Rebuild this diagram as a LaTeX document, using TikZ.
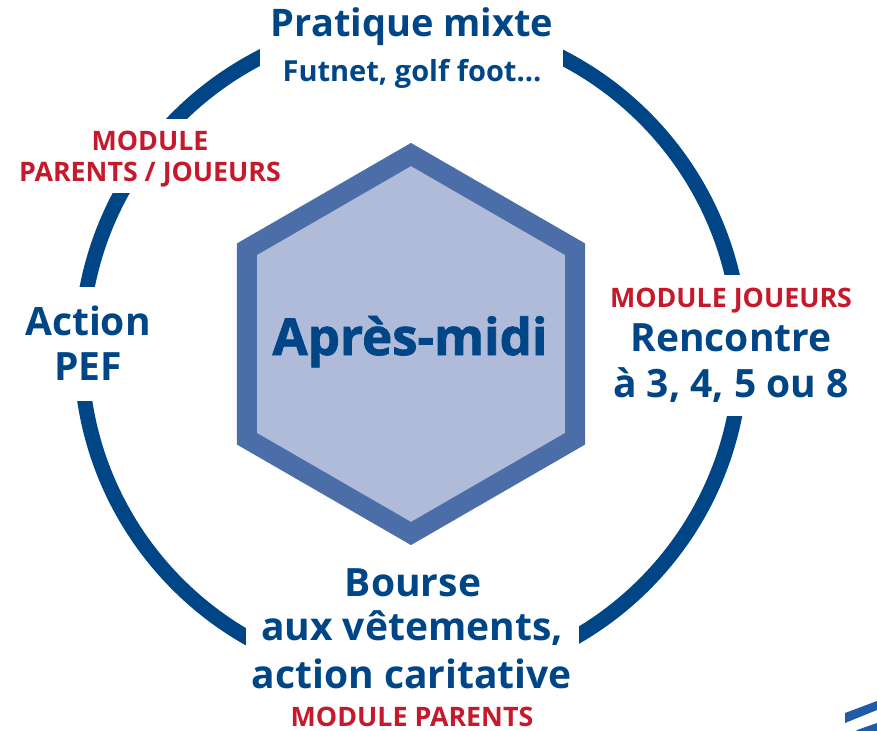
\documentclass[tikz,border=0pt]{standalone}
\usepackage{fontspec}
\setmainfont{Open Sans}
\newfontfamily\heavyfont{Open Sans}[BoldFeatures={FakeBold=1.6}]
\definecolor{dblue}{HTML}{004687}
\definecolor{hexout}{HTML}{4B6EA8}
\definecolor{hexin}{HTML}{AFBBD9}
\definecolor{mred}{HTML}{C41A2C}
\definecolor{logoblue}{HTML}{1E5BA8}
\tikzset{
  biglabel/.style={font=\bfseries\fontsize{39}{39}\selectfont, text=dblue, anchor=base, inner sep=0pt},
  sublabel/.style={font=\bfseries\fontsize{29}{29}\selectfont, text=dblue, anchor=base, inner sep=0pt},
  modlabel/.style={font=\bfseries\fontsize{26.8}{26.8}\selectfont, text=mred, anchor=base, inner sep=0pt},
  gap/.style={fill=white, draw=none},
}
\begin{document}
\begin{tikzpicture}[x=1pt,y=-1pt]
\useasboundingbox (0,0) rectangle (877,730);
% ring
\draw[dblue, line width=15pt] (411,351) circle[radius=330];
% gaps in the ring
\fill[gap] (260,-5) rectangle (563,110);
\fill[gap] (-5,119) rectangle (250,193);
\fill[gap] (-5,287) rectangle (200,401);
\fill[gap] (600,275) rectangle (882,416);
\fill[gap] (246,560) rectangle (579,735);
% hexagon
\draw[hexout, fill=hexin, line width=20pt, line join=miter]
  (411,344) ++(90:-189.5) -- ++(-30:-189.5) -- ++(-90:-189.5) -- ++(-150:-189.5) -- ++(150:-189.5) -- ++(90:-189.5) -- cycle;
\node[font=\heavyfont\bfseries\fontsize{51}{51}\selectfont, text=dblue, anchor=base, inner sep=0pt] (am) at (410,355) {Après-midi};
% labels
\node[biglabel, font=\bfseries\fontsize{38}{38}\selectfont] (pm) at (412,37) {Pratique mixte};
\node[sublabel] (fg) at (412,82) {Futnet, golf foot…};
\node[modlabel] (m1) at (150,150) {MODULE};
\node[modlabel] (m2) at (150,182) {PARENTS / JOUEURS};
\node[biglabel] (a1) at (88,335) {Action};
\node[biglabel] (a2) at (88,380) {PEF};
\node[modlabel] (mj) at (731,307) {MODULE JOUEURS};
\node[biglabel] (r1) at (731,351) {Rencontre};
\node[biglabel] (r2) at (731,397) {à 3, 4, 5 ou 8};
\node[biglabel] (b1) at (413,596) {Bourse};
\node[biglabel] (b2) at (412,640) {aux vêtements,};
\node[biglabel] (b3) at (412,688) {action caritative};
\node[modlabel] (mp) at (412,726.5) {MODULE PARENTS};
% logo fragment
\fill[logoblue] (845,713) -- (877,701) -- (877,710) -- (845,723) -- cycle;
\fill[logoblue] (857,730) -- (877,723) -- (877,732) -- (855,732) -- cycle;
\end{tikzpicture}
\end{document}
